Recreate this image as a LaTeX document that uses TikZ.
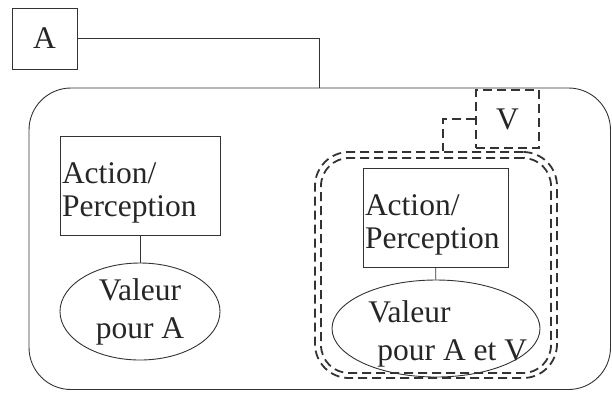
\documentclass[tikz,border=0pt]{standalone}
\usepackage{fontspec}
\setmainfont{Liberation Serif}
\usetikzlibrary{shapes.geometric}

\begin{document}
\begin{tikzpicture}[x=1pt, y=-1pt, line width=0.9pt, draw=black!80, text=black!85,
        box/.style={draw, rectangle, inner sep=2pt},
        actbox/.style={box, align=left, anchor=north, text height=45pt, text depth=50pt},
        valeur/.style={draw, ellipse, inner sep=0pt},
        dashline/.style={dashed, dash pattern=on 9pt off 5pt, line width=1.8pt},
        txt/.style={font=\fontsize{31.5}{33}\selectfont}]
        \useasboundingbox (0,0) rectangle (612,392);

        \node[box, txt, minimum width=65pt, minimum height=61pt] (boxA) at (44.5,38.5) {A};
        \node[draw, rounded corners=42pt, minimum width=581.5pt, minimum height=301.5pt] (agentA) at (319.75,238.75) {};

        \node[actbox, txt, text width=156pt] (actA) at (140,136) {Action/\\Perception};
        \node[valeur, txt, align=center, minimum width=160pt, minimum height=97pt,
              font=\fontsize{31.5}{38}\selectfont] (valA) at (140,311.5) {Valeur\\pour A};

        \node[box, dashline, txt, minimum width=63pt, minimum height=58pt] (boxV) at (507.5,119) {V};
        \node[dashline, draw, rounded corners=34pt, minimum width=242pt, minimum height=226pt] (dashOut) at (436,265) {};
        \node[dashline, draw, rounded corners=28pt, minimum width=230pt, minimum height=215pt] (dashIn) at (436,265.5) {};

        \node[actbox, txt, text width=141pt] (actAV) at (435.5,168) {Action/\\Perception};
        \node[valeur, minimum width=208pt, minimum height=97pt] (valAV) at (436,328.5) {};
        \node[txt, align=left, inner sep=0pt, anchor=base west,
              font=\fontsize{31.5}{38}\selectfont] (txtAV) at (368,360) {Valeur\\\hspace*{9pt}pour A et V};

        \draw (boxA.east) -| (agentA.north);
        \draw (actA) -- (valA);
        \draw (actAV) -- (valAV);
        \draw[dashline] (boxV.west) -| ([xshift=7pt]dashOut.north);
\end{tikzpicture}
\end{document}
